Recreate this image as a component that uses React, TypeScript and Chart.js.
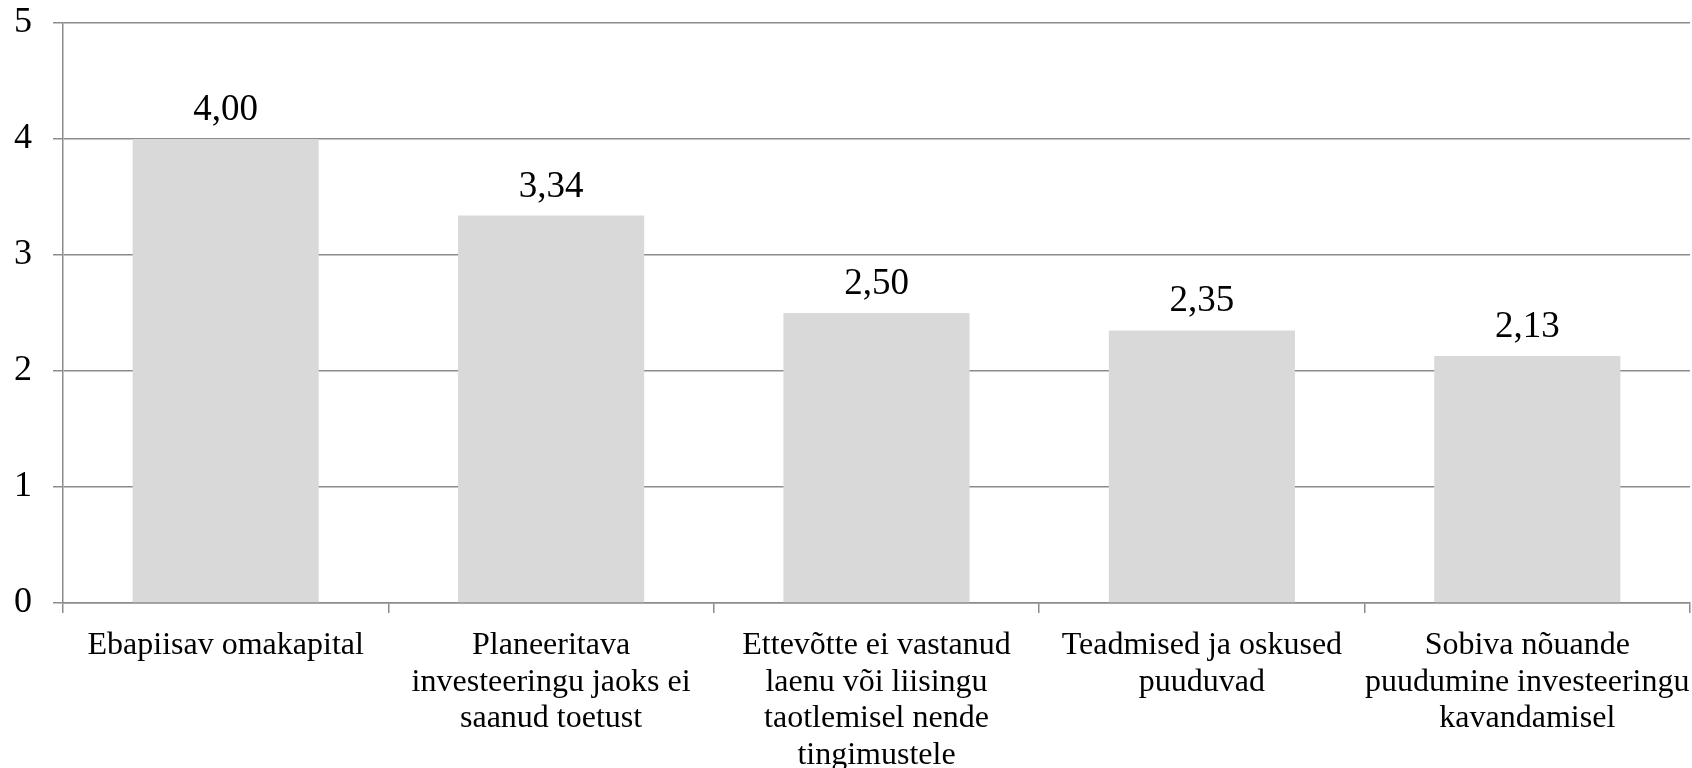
import React, { useEffect, useRef } from "react";
import { Chart, registerables } from "chart.js";

Chart.register(...registerables);

const categories: string[][] = [
  ["Ebapiisav omakapital"],
  ["Planeeritava", "investeeringu jaoks ei", "saanud toetust"],
  ["Ettevõtte ei vastanud", "laenu või liisingu", "taotlemisel nende", "tingimustele"],
  ["Teadmised ja oskused", "puuduvad"],
  ["Sobiva nõuande", "puudumine investeeringu", "kavandamisel"],
];

const values: number[] = [4.0, 3.34, 2.5, 2.35, 2.13];

const yMin = 0;
const yMax = 5;
const yStep = 1;

const FONT = "'Liberation Serif', 'Times New Roman', Times, serif";
const GRID = "#8c8c8c";
const BAR = "#d9d9d9";

const dataLabelPlugin = {
  id: "dataLabels",
  afterDatasetsDraw(chart: any) {
    const ctx = chart.ctx;
    const meta = chart.getDatasetMeta(0);
    ctx.save();
    ctx.font = `37px ${FONT}`;
    ctx.fillStyle = "#000";
    ctx.textAlign = "center";
    ctx.textBaseline = "alphabetic";
    meta.data.forEach((el: any, i: number) => {
      const v = values[i];
      ctx.fillText(v.toFixed(2).replace(".", ","), el.x, el.y - 19);
    });
    ctx.restore();
  },
};

export default function App() {
  const ref = useRef<HTMLCanvasElement | null>(null);

  useEffect(() => {
    if (!ref.current) return;
    const chart = new Chart(ref.current, {
      type: "bar",
      data: {
        labels: categories,
        datasets: [
          {
            data: values,
            backgroundColor: BAR,
            borderWidth: 0,
            categoryPercentage: 1,
            barPercentage: 0.572,
          },
        ],
      },
      options: {
        responsive: false,
        animation: false,
        layout: { padding: { top: 23, right: 2, left: 0, bottom: 0 } },
        plugins: {
          legend: { display: false },
          tooltip: { enabled: false },
        },
        scales: {
          x: {
            grid: {
              offset: true,
              drawOnChartArea: false,
              drawTicks: true,
              tickLength: 10,
              color: GRID,
              lineWidth: 1.5,
            },
            border: { display: true, color: GRID, width: 1.5 },
            ticks: {
              color: "#000",
              font: { family: FONT, size: 32, lineHeight: 1.15 },
              padding: 14,
              maxRotation: 0,
              autoSkip: false,
            },
            afterFit(scale: any) {
              scale.height = 165;
              scale.paddingLeft = 0;
              scale.paddingRight = 0;
            },
          },
          y: {
            min: yMin,
            max: yMax,
            grid: {
              color: GRID,
              lineWidth: 1.5,
              drawTicks: true,
              tickLength: 10,
            },
            border: { display: true, color: GRID, width: 1.5 },
            ticks: {
              stepSize: yStep,
              color: "#000",
              font: { family: FONT, size: 36 },
              padding: 21,
            },
            afterFit(scale: any) {
              scale.width = 63;
              scale.paddingTop = 0;
              scale.paddingBottom = 0;
            },
          },
        },
      },
      plugins: [dataLabelPlugin],
    });
    return () => chart.destroy();
  }, []);

  return (
    <div style={{ position: "absolute", left: 0, top: 0, width: 1692, height: 768, background: "#fff" }}>
      <canvas ref={ref} width={1692} height={768} style={{ display: "block" }} />
    </div>
  );
}
